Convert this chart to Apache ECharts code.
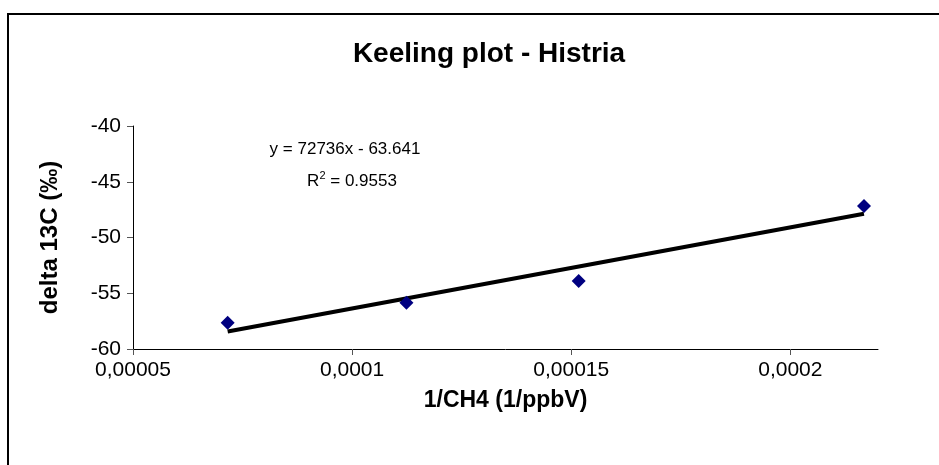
<!DOCTYPE html>
<html>
<head>
<meta charset="utf-8">
<script src="https://cdn.jsdelivr.net/npm/echarts@6/dist/echarts.min.js"></script>
<style>
    html, body { margin: 0; padding: 0; background: #fff; }
    #chart { width: 939px; height: 465px; }
</style>
</head>
<body>
<div id="chart"></div>
<script>
// 数据
var xValues = [0.0000716, 0.0001124, 0.0001517, 0.0002168];
var yValues = [-57.64, -55.85, -53.9, -47.17];
// 趋势线两端
var trendX = [0.0000716, 0.0002168];
var trendY = [-58.43, -47.87];
var xTicks = [0.00005, 0.0001, 0.00015, 0.0002];
var xTickLabels = ['0,00005', '0,0001', '0,00015', '0,0002'];
var yTicks = [-60, -55, -50, -45, -40];

var myChart;

window.onload = function () {
    myChart = echarts.init(document.getElementById('chart'));

    var points = [];
    for (var i = 0; i < xValues.length; i++) {
        points.push([xValues[i], yValues[i]]);
    }
    var trend = [];
    for (var j = 0; j < trendX.length; j++) {
        trend.push([trendX[j], trendY[j]]);
    }

    var font = 'Liberation Sans, Arial, sans-serif';

    var option = {
        animation: false,
        backgroundColor: '#fff',
        title: {
            text: 'Keeling plot - Histria',
            left: 484,
            top: 35,
            textAlign: 'center',
            textStyle: {
                fontFamily: font,
                fontSize: 28,
                fontWeight: 'bold',
                color: '#000'
            }
        },
        grid: {
            left: 133,
            right: 61,
            top: 126,
            bottom: 116
        },
        xAxis: {
            type: 'value',
            min: 0.00005,
            max: 0.00022,
            interval: 0.00005,
            name: '1/CH4 (1/ppbV)',
            nameLocation: 'middle',
            nameGap: 40,
            nameTextStyle: {
                fontFamily: font,
                fontSize: 23,
                fontWeight: 'bold',
                color: '#000'
            },
            splitLine: { show: false },
            axisLine: { show: true, onZero: false, lineStyle: { color: '#000', width: 1 } },
            axisTick: {
                show: true,
                length: 6,
                customValues: xTicks,
                lineStyle: { color: '#555' }
            },
            axisLabel: {
                customValues: xTicks,
                margin: 11,
                fontFamily: font,
                fontSize: 21,
                color: '#000',
                formatter: function (v) {
                    for (var k = 0; k < xTicks.length; k++) {
                        if (Math.abs(v - xTicks[k]) < 1e-9) return xTickLabels[k];
                    }
                    return '';
                }
            }
        },
        yAxis: {
            type: 'value',
            min: -60,
            max: -40,
            interval: 5,
            name: 'delta 13C (‰)',
            nameLocation: 'middle',
            nameRotate: 90,
            nameGap: 71,
            nameTextStyle: {
                fontFamily: font,
                fontSize: 24,
                fontWeight: 'bold',
                color: '#000'
            },
            splitLine: { show: false },
            axisLine: { show: true, onZero: false, lineStyle: { color: '#000', width: 1 } },
            axisTick: { show: true, length: 6, lineStyle: { color: '#555' } },
            axisLabel: {
                margin: 12,
                fontFamily: font,
                fontSize: 21,
                color: '#000'
            }
        },
        graphic: [
            {
                type: 'rect',
                shape: { x: 8, y: 14, width: 1000, height: 600 },
                style: { fill: 'none', stroke: '#000', lineWidth: 2 },
                silent: true
            },
            {
                type: 'text',
                x: 345,
                y: 149,
                style: {
                    text: 'y = 72736x - 63.641',
                    fontFamily: font,
                    fontSize: 17,
                    fill: '#000',
                    align: 'center',
                    verticalAlign: 'middle'
                }
            },
            {
                type: 'text',
                x: 352,
                y: 181,
                style: {
                    text: 'R{sup|2} = 0.9553',
                    fontFamily: font,
                    fontSize: 17,
                    fill: '#000',
                    align: 'center',
                    verticalAlign: 'middle',
                    rich: {
                        sup: {
                            fontFamily: font,
                            fontSize: 11,
                            verticalAlign: 'top',
                            padding: [0, 0, 10, 0]
                        }
                    }
                }
            }
        ],
        series: [
            {
                name: 'trend',
                type: 'line',
                data: trend,
                symbol: 'none',
                lineStyle: { color: '#000', width: 4 },
                z: 2
            },
            {
                name: 'points',
                type: 'scatter',
                data: points,
                symbol: 'diamond',
                symbolSize: [14, 14],
                itemStyle: { color: '#000080', opacity: 1 },
                z: 3
            }
        ]
    };

    myChart.setOption(option);
};
</script>
</body>
</html>
